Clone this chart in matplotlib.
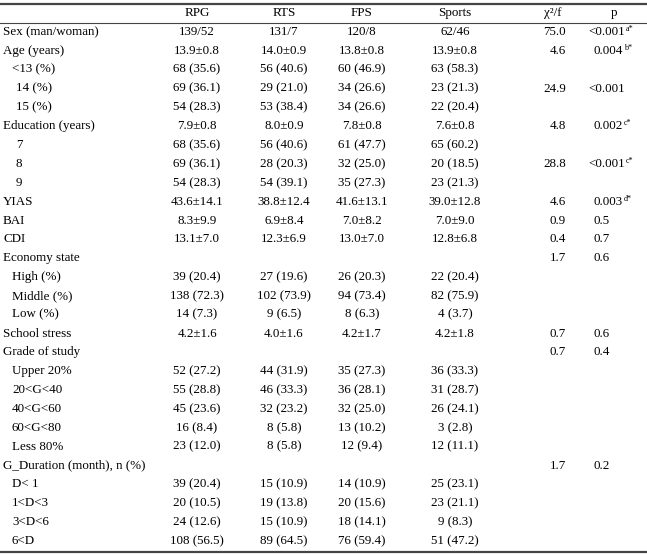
import matplotlib
matplotlib.use("Agg")
import matplotlib.pyplot as plt

plt.rcParams['font.family'] = ['Liberation Serif', 'DejaVu Serif']
plt.rcParams['mathtext.fontset'] = 'custom'
plt.rcParams['mathtext.rm'] = 'Liberation Serif'
plt.rcParams['mathtext.it'] = 'Liberation Serif:italic'

W, H = 647, 554

headers = ["RPG", "RTS", "FPS", "Sports", "χ²/f", "p"]

labels = ["Sex (man/woman)", "Age (years)", "<13 (%)", "14 (%)", "15 (%)",
          "Education (years)", "7", "8", "9", "YIAS", "BAI", "CDI",
          "Economy state", "High (%)", "Middle (%)", "Low (%)", "School stress",
          "Grade of study", "Upper 20%", "20<G<40", "40<G<60", "60<G<80",
          "Less 80%", "G_Duration (month), n (%)", "D< 1", "1<D<3", "3<D<6", "6<D"]
indent = [0, 0, 1, 2, 2, 0, 2, 2, 2, 0, 0, 0, 0, 1, 1, 1, 0, 0, 1, 1, 1, 1,
          1, 0, 1, 1, 1, 1]

rpg = ["139/52", "13.9±0.8", "68 (35.6)", "69 (36.1)", "54 (28.3)", "7.9±0.8",
       "68 (35.6)", "69 (36.1)", "54 (28.3)", "43.6±14.1", "8.3±9.9", "13.1±7.0",
       "", "39 (20.4)", "138 (72.3)", "14 (7.3)", "4.2±1.6", "",
       "52 (27.2)", "55 (28.8)", "45 (23.6)", "16 (8.4)", "23 (12.0)", "",
       "39 (20.4)", "20 (10.5)", "24 (12.6)", "108 (56.5)"]
rts = ["131/7", "14.0±0.9", "56 (40.6)", "29 (21.0)", "53 (38.4)", "8.0±0.9",
       "56 (40.6)", "28 (20.3)", "54 (39.1)", "38.8±12.4", "6.9±8.4", "12.3±6.9",
       "", "27 (19.6)", "102 (73.9)", "9 (6.5)", "4.0±1.6", "",
       "44 (31.9)", "46 (33.3)", "32 (23.2)", "8 (5.8)", "8 (5.8)", "",
       "15 (10.9)", "19 (13.8)", "15 (10.9)", "89 (64.5)"]
fps = ["120/8", "13.8±0.8", "60 (46.9)", "34 (26.6)", "34 (26.6)", "7.8±0.8",
       "61 (47.7)", "32 (25.0)", "35 (27.3)", "41.6±13.1", "7.0±8.2", "13.0±7.0",
       "", "26 (20.3)", "94 (73.4)", "8 (6.3)", "4.2±1.7", "",
       "35 (27.3)", "36 (28.1)", "32 (25.0)", "13 (10.2)", "12 (9.4)", "",
       "14 (10.9)", "20 (15.6)", "18 (14.1)", "76 (59.4)"]
sports = ["62/46", "13.9±0.8", "63 (58.3)", "23 (21.3)", "22 (20.4)", "7.6±0.8",
          "65 (60.2)", "20 (18.5)", "23 (21.3)", "39.0±12.8", "7.0±9.0", "12.8±6.8",
          "", "22 (20.4)", "82 (75.9)", "4 (3.7)", "4.2±1.8", "",
          "36 (33.3)", "31 (28.7)", "26 (24.1)", "3 (2.8)", "12 (11.1)", "",
          "25 (23.1)", "23 (21.1)", "9 (8.3)", "51 (47.2)"]
chi = ["75.0", "4.6", "", "24.9", "", "4.8", "", "28.8", "", "4.6", "0.9", "0.4",
       "1.7", "", "", "", "0.7", "0.7", "", "", "", "", "", "1.7", "", "", "", ""]
pval = ["<0.001", "0.004", "", "<0.001", "", "0.002", "", "<0.001", "", "0.003",
        "0.5", "0.7", "0.6", "", "", "", "0.6", "0.4", "", "", "", "", "", "0.2",
        "", "", "", ""]
psup = ["a*", "b*", "", "", "", "c*", "", "c*", "", "d*", "", "", "", "", "", "",
        "", "", "", "", "", "", "", "", "", "", "", ""]

fig = plt.figure(figsize=(W / 100, H / 100), dpi=100)
fs = 9.4

def fx(x):
    return x / W

def fy(y):
    return 1 - y / H

# rules
for y, lw in [(3.5, 1.6), (22.5, 0.8), (551.5, 1.6)]:
    fig.add_artist(plt.Line2D([0, 1], [fy(y), fy(y)], color="#444444", lw=lw))

col_x = [197, 284, 362, 455]
chi_right = 566
p_left = 594

head_y = 13
for hx, h in zip(col_x + [553, 614], headers):
    fig.text(fx(hx), fy(head_y), h, ha="center", va="center", fontsize=fs)

row0, dy = 32, 18.85
indent_px = [3, 12, 16]
for i, lab in enumerate(labels):
    y = fy(row0 + i * dy)
    fig.text(fx(indent_px[indent[i]]), y, lab, ha="left", va="center", fontsize=fs)
    for cx, col in zip(col_x, [rpg, rts, fps, sports]):
        if col[i]:
            fig.text(fx(cx), y, col[i], ha="center", va="center", fontsize=fs)
    if chi[i]:
        fig.text(fx(chi_right), y, chi[i], ha="right", va="center", fontsize=fs)
    if pval[i]:
        s = pval[i]
        x0 = p_left
        if s.startswith("<"):
            x0 -= 6
        fig.text(fx(x0), y, s, ha="left", va="center", fontsize=fs)
        if psup[i]:
            # small superscript placed after the p value
            t = fig.text(fx(x0), y, s, ha="left", va="center", fontsize=fs, alpha=0)
            r = fig.canvas.get_renderer()
            bb = t.get_window_extent(renderer=r)
            fig.text(fx(bb.x1 + 1), y + 3 / H, psup[i], ha="left", va="center",
                     fontsize=fs * 0.62)

fig.savefig("out.png", dpi=100, facecolor="white")
